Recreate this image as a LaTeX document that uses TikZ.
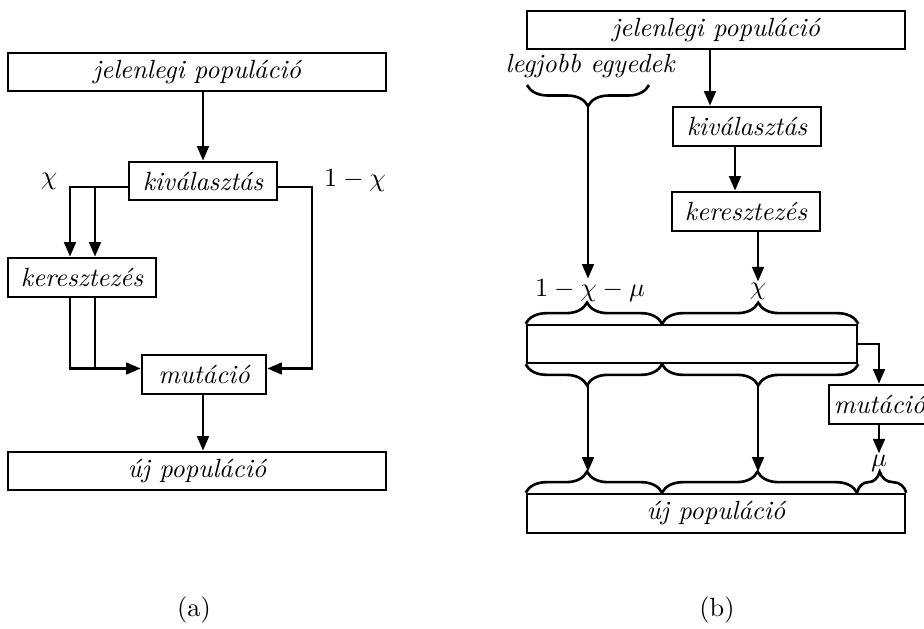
\documentclass[tikz,border=0pt]{standalone}
\usetikzlibrary{arrows.meta,decorations.pathreplacing,calc}
\begin{document}
\begin{tikzpicture}[x=0.38pt,y=-0.38pt,line width=1pt,
  box/.style 2 args={draw,inner sep=0pt,font=\itshape,minimum width=#1*0.38pt,minimum height=#2*0.38pt},
  txt/.style={inner sep=0pt},
  arr/.style={-{Triangle[length=5.5pt,width=4.4pt]}},
  brc/.style={decorate,decoration={brace,amplitude=8pt,aspect=#1}},
  brcm/.style={decorate,decoration={brace,mirror,amplitude=8pt,aspect=#1}},
]
\useasboundingbox (0,0) rectangle (924,628);

% ---------------- (a) ----------------
\node[box={378}{38}] (ajp) at (197,72) {jelenlegi populáció};
\node[box={148}{38}] (akiv) at (203,181) {kiválasztás};
\node[box={148}{39}] (aker) at (82,277.5) {keresztezés};
\node[box={124}{39}] (amut) at (204,374.5) {mutáció};
\node[box={378}{38}] (auj) at (197,471) {új populáció};
\node[txt] (achi) at (49,181) {$\chi$};
\node[txt] (a1chi) at (355,181) {$1-\chi$};
\node[txt] (alab) at (194,610) {(a)};

\coordinate (aL1) at (70,0);
\coordinate (aL2) at (95,0);
\coordinate (aR) at (312,0);
\coordinate (aC) at (203,0);
\coordinate (akw) at ($(akiv.west)+(0,6)$);
\coordinate (ake) at ($(akiv.east)+(0,6)$);
\coordinate (amw) at ($(amut.west)+(0,-6)$);
\coordinate (ame) at ($(amut.east)+(0,-6)$);

\draw[arr] (ajp.south -| aC) -- (akiv.north -| aC);
\draw[arr] (akw) -- (akw -| aL1) -- (aker.north -| aL1);
\draw[arr] (akw -| aL2) -- (aker.north -| aL2);
\draw[arr] (aker.south -| aL1) -- (amw -| aL1) -- (amw);
\draw (aker.south -| aL2) -- (amw -| aL2);
\draw[arr] (ake) -- (ake -| aR) -- (ame -| aR) -- (ame);
\draw[arr] (amut.south -| aC) -- (auj.north -| aC);

% ---------------- (b) ----------------
\node[box={378}{38}] (bjp) at (716,30) {jelenlegi populáció};
\node[txt,font=\itshape] (bleg) at (590,66) {legjobb egyedek};
\node[box={148}{39}] (bkiv) at (747,126.5) {kiválasztás};
\node[box={148}{39}] (bker) at (746,211.5) {keresztezés};
\node[box={330}{38}] (bmid) at (692,344) {};
\node[box={101}{39}] (bmut) at (879.5,404.5) {mutáció};
\node[box={378}{39}] (buj) at (716,513.5) {új populáció};
\node[txt] (bl1) at (590,291) {$1-\chi-\mu$};
\node[txt] (bl2) at (758,291) {$\chi$};
\node[txt] (bl3) at (879,463) {$\mu$};
\node[txt] (blab) at (717,610) {(b)};

\coordinate (bA) at (588,0);
\coordinate (bB) at (758,0);
\coordinate (bS) at (662,0);
\coordinate (bT) at (857,0);
\coordinate (bM) at (879,0);
\coordinate (bK1) at (710,0);
\coordinate (bK2) at (735,0);

% brace under "legjobb egyedek"
\coordinate (lb1) at (527,85);
\coordinate (lb2) at (649,85);
\coordinate (lbtip) at (588,106);
\draw[brcm=0.5] (lb1) -- (lb2);

% braces above the middle box
\draw[brc=0.45] (bmid.north west) -- (bmid.north -| bS);
\draw[brc=0.49] (bmid.north -| bS) -- (bmid.north east);
% braces below the middle box
\draw[brcm=0.45] (bmid.south west) -- (bmid.south -| bS);
\draw[brcm=0.49] (bmid.south -| bS) -- (bmid.south east);
\coordinate (md1) at ($(bmid.south -| bA)+(0,21)$);
\coordinate (md2) at ($(bmid.south -| bB)+(0,21)$);
% braces above the new population
\draw[brc=0.45] (buj.north west) -- (buj.north -| bS);
\draw[brc=0.49] (buj.north -| bS) -- (buj.north -| bT);
\draw[brc=0.46] (buj.north -| bT) -- (buj.north east);
\coordinate (nu1) at ($(buj.north -| bA)+(0,-21)$);
\coordinate (nu2) at ($(buj.north -| bB)+(0,-21)$);

\draw[arr] (lbtip) -- (bl1.north -| bA);
\draw[arr] (bjp.south -| bK1) -- (bkiv.north -| bK1);
\draw[arr] (bkiv.south -| bK2) -- (bker.north -| bK2);
\draw[arr] (bker.south -| bB) -- (bl2.north -| bB);
\draw[arr] (md1) -- (nu1);
\draw[arr] (md2) -- (nu2);
\draw[arr] (bmid.east) -- (bmid.east -| bM) -- (bmut.north -| bM);
\draw[arr] (bmut.south -| bM) -- (bl3.north -| bM);
\end{tikzpicture}
\end{document}
